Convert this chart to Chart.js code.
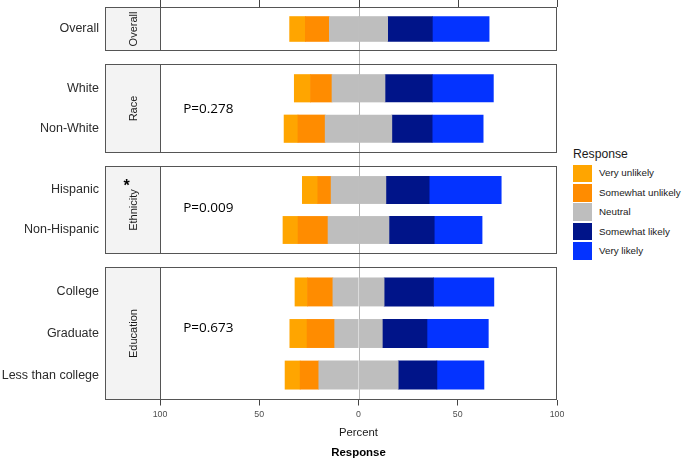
<!DOCTYPE html>
<html>
<head>
<meta charset="utf-8">
<script src="https://cdn.jsdelivr.net/npm/chart.js@4.4.1/dist/chart.umd.min.js"></script>
<style>
  html, body { margin: 0; padding: 0; background: #fff; }
  #fig { position: relative; width: 684px; height: 462px; overflow: hidden; font-family: "Liberation Sans", Arial, sans-serif; color: #1a1a1a; }
  #fig canvas { position: absolute; left: 0; }
  .lg-title { position: absolute; left: 573px; top: 147px; font-size: 12.2px; line-height: 14px; }
  .lg-key { position: absolute; left: 573px; width: 18.5px; height: 17.8px; }
  .lg-label { position: absolute; left: 599px; font-size: 9.8px; line-height: 12px; white-space: nowrap; }
</style>
</head>
<body>
<div id="fig"></div>
<script>
// rows of the chart, top to bottom
const groups = ['Overall', 'White', 'Non-White', 'Hispanic', 'Non-Hispanic', 'College', 'Graduate', 'Less than college'];
const facetNames = ['Overall', 'Race', 'Ethnicity', 'Education'];
const facetRows = [1, 2, 2, 3];
const facetPValues = ['', 'P=0.278', 'P=0.009', 'P=0.673'];
const facetMarks = ['', '', '*', ''];

const responses = ['Very unlikely', 'Somewhat unlikely', 'Neutral', 'Somewhat likely', 'Very likely'];
const veryUnlikely     = [7.9, 8.2, 7.0, 7.8, 7.6, 6.3, 8.7, 7.6];
const somewhatUnlikely = [12.1, 10.8, 13.7, 6.7, 15.1, 12.8, 13.9, 9.4];
const neutral          = [29.4, 26.7, 33.6, 27.6, 30.7, 25.8, 24.0, 40.0];
const somewhatLikely   = [22.5, 23.8, 20.3, 21.8, 22.8, 24.9, 22.5, 19.5];
const veryLikely       = [28.6, 30.8, 25.7, 36.3, 24.1, 30.4, 30.9, 23.7];

const xTickValues = [-100, -50, 0, 50, 100];

const responseColors = ['#FFA500', '#FF8C00', '#BEBEBE', '#001489', '#0433FF'];

// layout (pixels)
const CANVAS_W = 570;
const PLOT_L = 160, PLOT_R = 557, STRIP_L = 105;
const TOP = 7, ROW_H = 44.25, GAP = 13;
const pLabelX = -88.3;               // in percent units
const pLabelRow = [null, 0.52, 0.46, 0.86];

Chart.defaults.font.family = '"Liberation Sans", Arial, sans-serif';

const facetPlugin = {
  id: 'facet',
  beforeDatasetsDraw(chart, args, opts) {
    const { ctx, chartArea: a, scales: { x } } = chart;
    ctx.save();
    ctx.fillStyle = '#f3f3f3';
    ctx.fillRect(STRIP_L, a.top, a.left - STRIP_L, a.bottom - a.top);
    // zero line runs through the gaps too
    const x0 = Math.round(x.getPixelForValue(0)) + 0.5;
    ctx.strokeStyle = '#b5b5b5';
    ctx.lineWidth = 1;
    ctx.beginPath();
    ctx.moveTo(x0, 0);
    ctx.lineTo(x0, a.bottom);
    ctx.stroke();
    if (opts.first) {
      ctx.strokeStyle = '#444';
      xTickValues.forEach(v => {
        const px = Math.round(x.getPixelForValue(v)) + 0.5;
        ctx.beginPath();
        ctx.moveTo(px, 0);
        ctx.lineTo(px, a.top);
        ctx.stroke();
      });
    }
    ctx.restore();
  },
  afterDatasetsDraw(chart, args, opts) {
    const { ctx, chartArea: a, scales: { x, y } } = chart;
    ctx.save();
    ctx.strokeStyle = '#555';
    ctx.lineWidth = 1;
    const t = Math.round(a.top) + 0.5, b = Math.round(a.bottom) - 0.5;
    ctx.strokeRect(STRIP_L + 0.5, t, Math.round(a.right) - STRIP_L - 1, b - t);
    ctx.beginPath();
    ctx.moveTo(Math.round(a.left) + 0.5, t);
    ctx.lineTo(Math.round(a.left) + 0.5, b);
    ctx.stroke();

    const sx = (STRIP_L + a.left) / 2 + 1;
    ctx.fillStyle = '#1a1a1a';
    ctx.font = '11px "Liberation Sans", Arial, sans-serif';
    ctx.textAlign = 'center';
    ctx.textBaseline = 'middle';
    ctx.translate(sx, (a.top + a.bottom) / 2);
    ctx.rotate(-Math.PI / 2);
    ctx.fillText(opts.name, 0, 0);
    ctx.setTransform(1, 0, 0, 1, 0, 0);

    if (opts.mark) {
      ctx.fillStyle = '#000';
      ctx.font = 'bold 16px "Liberation Sans", Arial, sans-serif';
      ctx.textBaseline = 'alphabetic';
      ctx.fillText(opts.mark, sx - 7, a.top + 25);
    }
    if (opts.pText) {
      ctx.fillStyle = '#000';
      ctx.font = '13.5px "Open Sans", sans-serif';
      ctx.textAlign = 'left';
      ctx.textBaseline = 'middle';
      ctx.fillText(opts.pText, x.getPixelForValue(pLabelX), y.getPixelForValue(opts.pRow));
    }
    ctx.restore();
  }
};

const fig = document.getElementById('fig');
let yPos = TOP, prevBottom = 0, start = 0;

facetNames.forEach((name, f) => {
  const n = facetRows[f];
  const top = Math.round(yPos);
  const bottom = Math.round(yPos + n * ROW_H);
  const last = f === facetNames.length - 1;
  const cTop = prevBottom;
  const cH = last ? 462 - cTop : bottom - cTop;

  const canvas = document.createElement('canvas');
  canvas.width = CANVAS_W;
  canvas.height = cH;
  canvas.style.top = cTop + 'px';
  fig.appendChild(canvas);

  const rows = groups.slice(start, start + n);
  const pick = arr => arr.slice(start, start + n);
  const vu = pick(veryUnlikely), su = pick(somewhatUnlikely), ne = pick(neutral),
        sl = pick(somewhatLikely), vl = pick(veryLikely);
  const thickness = 0.68 * (bottom - top) / (n + 0.2);

  const ds = (label, values, sign, color) => ({
    label,
    data: values.map((v, i) => ({ x: sign * v, y: i })),
    backgroundColor: color,
    borderWidth: 0,
    barThickness: thickness,
    stack: 'likert'
  });

  // negative side stacks outward from zero: neutral half, somewhat unlikely, very unlikely
  const datasets = [
    ds('Neutral', ne.map(v => v / 2), -1, responseColors[2]),
    ds('Neutral', ne.map(v => v / 2), 1, responseColors[2]),
    ds(responses[1], su, -1, responseColors[1]),
    ds(responses[3], sl, 1, responseColors[3]),
    ds(responses[0], vu, -1, responseColors[0]),
    ds(responses[4], vl, 1, responseColors[4])
  ];

  new Chart(canvas, {
    type: 'bar',
    data: { datasets },
    plugins: [facetPlugin],
    options: {
      indexAxis: 'y',
      responsive: false,
      animation: false,
      devicePixelRatio: 1,
      layout: {
        autoPadding: false,
        padding: { left: 0, right: CANVAS_W - PLOT_R, top: top - cTop, bottom: 0 }
      },
      scales: {
        x: {
          type: 'linear',
          min: -100,
          max: 100,
          offset: false,
          stacked: true,
          display: last,
          afterBuildTicks: s => { s.ticks = xTickValues.map(v => ({ value: v })); },
          afterFit: s => {
            s.height = last ? 41 : 0;
            s.paddingLeft = s.paddingRight = 0;
          },
          grid: { display: true, drawOnChartArea: false, drawTicks: true, tickLength: 5.5, color: '#444' },
          border: { display: false },
          ticks: {
            autoSkip: false,
            maxRotation: 0,
            padding: 4,
            color: '#4d4d4d',
            font: { size: 8.8 },
            callback: v => String(Math.abs(v))
          },
          title: {
            display: true,
            text: 'Percent',
            color: '#1a1a1a',
            font: { size: 11.3 },
            padding: { top: 0, bottom: 1 }
          }
        },
        y: {
          type: 'linear',
          reverse: true,
          offset: false,
          min: -0.6,
          max: n - 0.4,
          afterBuildTicks: s => { s.ticks = rows.map((_, i) => ({ value: i })); },
          afterFit: s => {
            s.width = PLOT_L;
            s.paddingTop = s.paddingBottom = 0;
          },
          grid: { display: false, drawTicks: false, offset: false },
          border: { display: false },
          ticks: {
            autoSkip: false,
            padding: PLOT_L - 99,
            color: '#2b2b2b',
            font: { size: 12.5 },
            callback: v => rows[v]
          }
        }
      },
      plugins: {
        legend: { display: false },
        tooltip: { enabled: false },
        title: {
          display: last,
          text: 'Response',
          position: 'bottom',
          fullSize: false,
          color: '#000',
          font: { size: 11.4, weight: 'bold' },
          padding: { top: 5, bottom: 2.3 }
        },
        facet: {
          name,
          first: f === 0,
          mark: facetMarks[f],
          pText: facetPValues[f],
          pRow: pLabelRow[f]
        }
      }
    }
  });

  prevBottom = bottom;
  yPos += n * ROW_H + GAP;
  start += n;
});

// legend
const title = document.createElement('div');
title.className = 'lg-title';
title.textContent = 'Response';
fig.appendChild(title);
responses.forEach((r, i) => {
  const topPx = 164.5 + i * 19.4;
  const key = document.createElement('div');
  key.className = 'lg-key';
  key.style.top = topPx + 'px';
  key.style.background = responseColors[i];
  fig.appendChild(key);
  const lab = document.createElement('div');
  lab.className = 'lg-label';
  lab.style.top = (topPx + 2.9) + 'px';
  lab.textContent = r;
  fig.appendChild(lab);
});
</script>
</body>
</html>
